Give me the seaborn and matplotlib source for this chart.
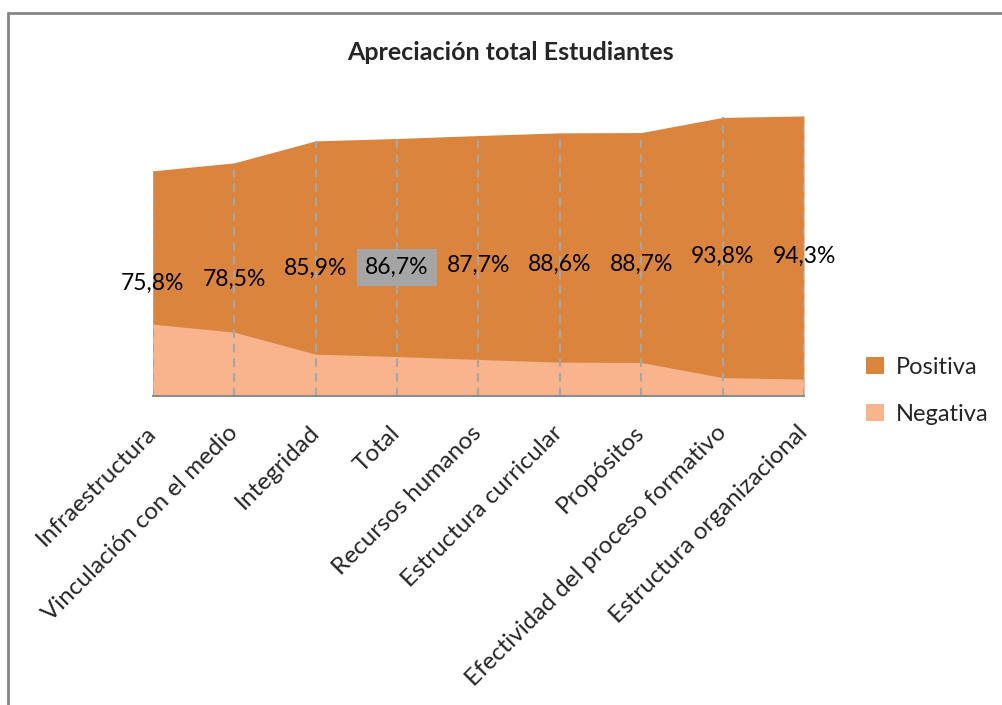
import matplotlib.pyplot as plt
import seaborn as sns
import pandas as pd
from matplotlib.patches import Patch
from matplotlib.lines import Line2D

categorias = ["Infraestructura", "Vinculación con el medio", "Integridad", "Total",
              "Recursos humanos", "Estructura curricular", "Propósitos",
              "Efectividad del proceso formativo", "Estructura organizacional"]
positiva = [75.8, 78.5, 85.9, 86.7, 87.7, 88.6, 88.7, 93.8, 94.3]
negativa = [24.2, 21.5, 14.1, 13.3, 12.3, 11.4, 11.3, 6.2, 5.7]
etiquetas = ["75,8%", "78,5%", "85,9%", "86,7%", "87,7%", "88,6%", "88,7%", "93,8%", "94,3%"]

col_pos = "#DB843D"
col_neg = "#F8B48D"

sns.set_style("white")
plt.rcParams['font.family'] = ['Lato', 'DejaVu Sans']

df = pd.DataFrame({"x": range(len(categorias)), "Positiva": positiva, "Negativa": negativa})

fig = plt.figure(figsize=(10.02, 7.05), dpi=100)
ax = fig.add_axes([152.7 / 1002, 1 - 396 / 705, (804 - 152.7) / 1002, 297 / 705])

# areas (not stacked, negative drawn in front)
sns.lineplot(data=df, x="x", y="Positiva", ax=ax, color=col_pos, linewidth=0)
ax.fill_between(df["x"], 0, df["Positiva"], color=col_pos, linewidth=0, zorder=1)
sns.lineplot(data=df, x="x", y="Negativa", ax=ax, color=col_neg, linewidth=0)
ax.fill_between(df["x"], 0, df["Negativa"], color=col_neg, linewidth=0, zorder=2)

# drop lines
ax.vlines(df["x"], 0, df["Positiva"], colors="#A6A6A6", linestyles=(0, (4, 3)), linewidth=1.5, zorder=3)

for i, (v, t) in enumerate(zip(positiva, etiquetas)):
    box = None
    if categorias[i] == "Total":
        box = dict(facecolor="#A5A5A5", edgecolor="none", pad=6)
    ax.text(i, v / 2, t, ha="center", va="center", fontsize=16.5, color="black", bbox=box, zorder=5)

ax.set_xlim(0, len(categorias) - 1)
ax.set_ylim(0, 100)
ax.set_yticks([])
ax.set_xticks(df["x"])
ax.set_xticklabels(categorias, rotation=45, ha="right", va="center", rotation_mode="anchor", fontsize=17.5)
ax.tick_params(axis="x", length=0, pad=24)
ax.set_xlabel("")
ax.set_ylabel("")
for s in ["top", "right", "left"]:
    ax.spines[s].set_visible(False)
ax.spines["bottom"].set_color("#8C8C8C")
ax.spines["bottom"].set_linewidth(1.5)
ax.spines["bottom"].set_zorder(4)
ax.patch.set_alpha(0)

fig.text(510 / 1002, 1 - 52 / 705, "Apreciación total Estudiantes", ha="center", va="center",
         fontsize=18, fontweight="bold")

handles = [Patch(facecolor=col_pos, edgecolor="none"), Patch(facecolor=col_neg, edgecolor="none")]
fig.legend(handles, ["Positiva", "Negativa"], loc="center left", bbox_to_anchor=(845 / 1002, 1 - 391 / 705),
           frameon=False, fontsize=17, handlelength=0.75, handleheight=0.75, handletextpad=0.5, labelspacing=1.1)

# chart border (left and top)
fig.add_artist(Line2D([8 / 1002, 8 / 1002], [0, 1 - 13 / 705], color="#868686", linewidth=2))
fig.add_artist(Line2D([8 / 1002, 1], [1 - 13 / 705, 1 - 13 / 705], color="#868686", linewidth=2))

fig.savefig("out.png", dpi=100)
